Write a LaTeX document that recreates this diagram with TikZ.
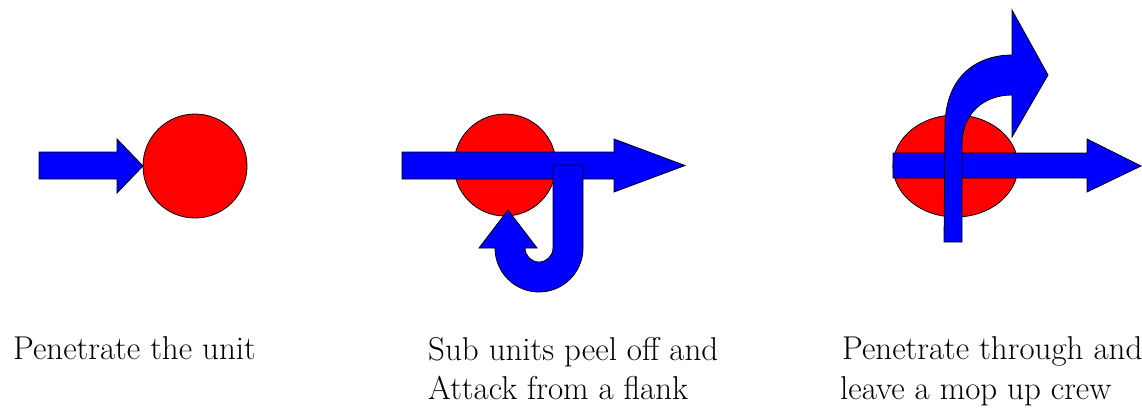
\documentclass[tikz,border=0pt]{standalone}
\usetikzlibrary{shapes.geometric}
\definecolor{unitred}{RGB}{255,0,0}
\definecolor{arrowblue}{RGB}{0,0,255}
\tikzset{
 unit/.style={draw=black, line width=0.8pt, fill=unitred, inner sep=0pt},
 blockarrow/.style={draw=black, line width=0.8pt, fill=arrowblue, line join=miter},
 caption/.style={anchor=base west, inner sep=0pt, font=\fontsize{33}{38}\selectfont}
}
\begin{document}
\begin{tikzpicture}[x=1pt,y=-1pt]
\useasboundingbox (0,0) rectangle (1142,408);
% panel 1
\node[unit, circle, minimum size=104pt] (u1) at (195,166) {};
\draw[blockarrow] (39,152) -- (117,152) -- (117,139) -- (143,166) -- (117,193) -- (117,179) -- (39,179) -- cycle;
% panel 2
\node[unit, circle, minimum size=102pt] (u2) at (505,165) {};
\draw[blockarrow] (402,152) -- (614,152) -- (614,139) -- (685,165.5) -- (614,192) -- (614,179) -- (402,179) -- cycle;
\draw[blockarrow] (553,165) -- (583,165) -- (583,248) arc[start angle=0, end angle=180, radius=44] -- (479,248) -- (508,210) -- (537,248) -- (525,248) arc[start angle=180, end angle=0, radius=14] -- cycle;
% panel 3
\node[unit, ellipse, minimum width=125pt, minimum height=102pt] (u3) at (955.5,166) {};
\draw[blockarrow] (893,153) -- (1087,153) -- (1087,139) -- (1141,166) -- (1087,192) -- (1087,178) -- (893,178) -- cycle;
\draw[blockarrow] (944,242) -- (945,125) .. controls (946,75) and (978,55) .. (1012,55) -- (1012,10) -- (1048,75) -- (1012,137) -- (1012,95) .. controls (985,95) and (962,112) .. (962,145) -- (962,242) -- cycle;
% captions
\node[caption] (c1) at (13,359) {Penetrate the unit};
\node[caption] (c2a) at (428,360) {Sub units peel off and};
\node[caption] (c2b) at (428,399) {Attack from a flank};
\node[caption] (c3a) at (842,359) {Penetrate through and};
\node[caption] (c3b) at (840,399) {leave a mop up crew};
\end{tikzpicture}
\end{document}
